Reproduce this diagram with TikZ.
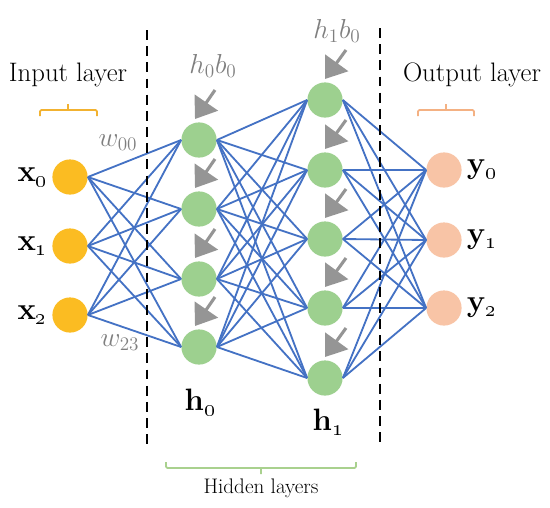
\RequirePackage{fix-cm}
\documentclass[tikz,border=0pt]{standalone}
\usepackage{tikz}
\usetikzlibrary{arrows.meta,positioning,calc}

\definecolor{inorange}{HTML}{FBBC22}
\definecolor{inbrace}{HTML}{F2B230}
\definecolor{hidgreen}{HTML}{9DD08F}
\definecolor{hidbrace}{HTML}{A9D18E}
\definecolor{outpeach}{HTML}{F8C4A6}
\definecolor{outbrace}{HTML}{F4B183}
\definecolor{netblue}{HTML}{4472C4}
\definecolor{biasgray}{HTML}{959595}
\definecolor{textgray}{HTML}{7F7F7F}

\begin{document}
\begin{tikzpicture}[
    x=0.025cm, y=-0.025cm,
    neuron/.style={circle, minimum size=0.88cm, inner sep=0pt},
    inneuron/.style={neuron, fill=inorange},
    hidneuron/.style={neuron, fill=hidgreen},
    outneuron/.style={neuron, fill=outpeach},
    edge/.style={draw=netblue, line width=1.3pt},
    bias/.style={draw=biasgray, line width=2.2pt, -{Triangle[length=0.5cm, width=0.7cm]}},
    divider/.style={draw, line width=1.5pt, dash pattern=on 7pt off 4.5pt},
    brace/.style={draw, line width=1.2pt, rounded corners=1pt},
    layertext/.style={font=\fontsize{19}{22}\selectfont},
    varlabel/.style={font=\fontsize{22}{26}\selectfont\bfseries, inner sep=1pt},
    weight/.style={text=textgray, font=\fontsize{19.5}{23}\selectfont}
]
    \useasboundingbox (0,0) rectangle (550,507);

    % neurons
    \foreach \i/\y in {0/177,1/246,2/315}
        \node [inneuron] (x\i) at (70,\y) {};
    \foreach \i/\y in {0/140,1/209,2/279,3/347}
        \node [hidneuron] (a\i) at (199,\y) {};
    \foreach \i/\y in {0/100,1/170,2/239,3/308,4/378}
        \node [hidneuron] (b\i) at (325,\y) {};
    \foreach \i/\y in {0/170,1/240,2/308}
        \node [outneuron] (y\i) at (444,\y) {};

    % weights
    \foreach \i in {0,1,2}
        \foreach \j in {0,...,3}
            \draw [edge] (x\i.east) -- (a\j.west);
    \foreach \i in {0,...,3}
        \foreach \j in {0,...,4}
            \draw [edge] (a\i.east) -- (b\j.west);
    \foreach \i in {0,...,4}
        \foreach \j in {0,1,2}
            \draw [edge] (b\i.east) -- (y\j.west);

    % biases
    \foreach \j in {0,...,3}
        \draw [bias] ($(a\j)+(16,-50)$) -- ($(a\j)+(-4,-21)$);
    \foreach \j in {0,...,4}
        \draw [bias] ($(b\j)+(21,-50)$) -- ($(b\j)+(0,-21)$);

    % labels
    \foreach \i in {0,1,2}
        \node [varlabel, left=0.08cm of x\i] {x\textsubscript{\oldstylenums{\i}}};
    \foreach \i in {0,1,2}
        \node [varlabel, right=0.08cm of y\i] {y\textsubscript{\oldstylenums{\i}}};
    \node [varlabel] (h0lab) at (200,402) {h\textsubscript{\oldstylenums{0}}};
    \node [varlabel] (h1lab) at (328,422) {h\textsubscript{\oldstylenums{1}}};

    \node [weight] (w00) at (118,143) {$w_{00}$};
    \node [weight] (w23) at (120,343) {$w_{23}$};
    \node [weight] (hb0) at (213,66) {$h_0b_0$};
    \node [weight] (hb1) at (337,31) {$h_1b_0$};

    % layer separators
    \draw [divider] (147,30) -- (147,448);
    \draw [divider] (380,28) -- (380,448);

    % layer names
    \node [layertext] (inlab) at (68,75) {Input layer};
    \node [layertext] (outlab) at (472,75) {Output layer};
    \node [font=\fontsize{15}{18}\selectfont] (hidlab) at (261,488) {Hidden layers};

    \draw [brace, draw=inbrace] (40,116) -- (40,110) -- (97,110) -- (97,116) (68,110) -- (68,104);
    \draw [brace, draw=outbrace] (418,116) -- (418,110) -- (474,110) -- (474,116) (446,110) -- (446,104);
    \draw [brace, draw=hidbrace] (166,462) -- (166,468) -- (356,468) -- (356,462) (261,468) -- (261,474);
\end{tikzpicture}
\end{document}
